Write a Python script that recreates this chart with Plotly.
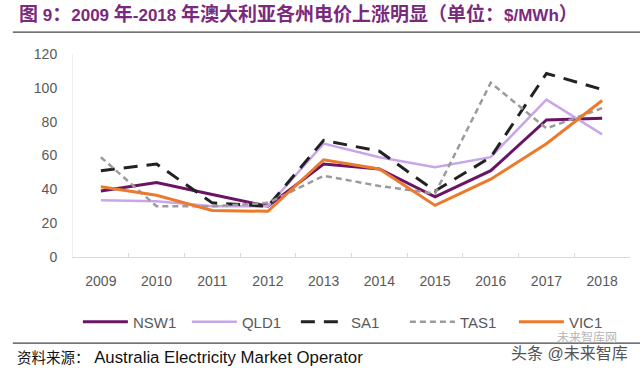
import plotly.graph_objects as go

years = ["2009", "2010", "2011", "2012", "2013", "2014", "2015", "2016", "2017", "2018"]
nsw1 = [39, 44, 37, 30, 55, 52, 35.5, 51, 81, 82]
qld1 = [33.5, 33, 30, 30, 67, 59, 53, 59, 93, 72.5]
sa1 = [51, 55, 32, 30, 69, 62.5, 39, 59, 108.5, 99]
tas1 = [59, 30, 30, 32, 48, 42, 37.5, 103, 76, 88]
vic1 = [41.5, 36.5, 27.5, 27, 57.5, 52, 30.5, 46, 67, 92.5]

FONT = "Liberation Sans, Arial, Noto Sans CJK SC, sans-serif"

fig = go.Figure()
series = [
    ("NSW1", nsw1, "#6a1466", 3, "solid"),
    ("QLD1", qld1, "#c9a6ea", 2.5, "solid"),
    ("SA1", sa1, "#222222", 3, "14px,9px"),
    ("TAS1", tas1, "#9b9b9b", 2.5, "6px,4px"),
    ("VIC1", vic1, "#ec7a2c", 3, "solid"),
]
for name, vals, color, w, dash in series:
    fig.add_trace(go.Scatter(x=years, y=vals, name=name, mode="lines",
                             line=dict(color=color, width=w, dash=dash)))

fig.update_layout(
    width=640, height=369,
    margin=dict(l=73, r=10, t=54, b=112, autoexpand=False),
    paper_bgcolor="white", plot_bgcolor="white",
    font=dict(family=FONT, size=14, color="#595959"),
    showlegend=True,
    legend=dict(orientation="h", x=0.498, xanchor="center", y=-0.32, yanchor="middle",
                font=dict(size=15, color="#595959"), itemwidth=45,
                entrywidth=49, entrywidthmode="pixels",
                traceorder="normal", bgcolor="rgba(0,0,0,0)"),
    xaxis=dict(type="category", range=[-0.5, 9.5], showgrid=False, showline=True,
               linecolor="#d9d9d9", linewidth=1, ticks="inside", tickcolor="#d9d9d9",
               ticklen=4, tickson="boundaries", ticklabelstandoff=11,
               tickfont=dict(size=14, color="#595959"), automargin=False),
    yaxis=dict(range=[0, 120], dtick=20, showgrid=False, showline=True,
               linecolor="#eeeeee", zeroline=False, ticks="", ticklabelstandoff=12,
               tickfont=dict(size=14, color="#595959"), automargin=False),
)

title = ("<b>图<span style='font-size:17px'> 9</span>：<span style='font-size:17px'>2009 </span>年"
         "<span style='font-size:17px'>-2018 </span>年澳大利亚各州电价上涨明显（单位："
         "<span style='font-size:17px'>$/MWh</span>）</b>")
fig.add_annotation(xref="paper", yref="paper", x=-0.1005, y=1.1995, text=title,
                   showarrow=False, xanchor="left", yanchor="middle",
                   font=dict(family=FONT, size=19, color="#7a2a7c"))
fig.add_shape(type="line", xref="paper", yref="paper", x0=-0.108, x1=1.02, y0=1.108, y1=1.108,
              line=dict(color="#444444", width=1.2))
fig.add_annotation(xref="paper", yref="paper", x=-0.104, y=-0.495,
                   text="资料来源：<span style='font-size:16.8px'> Australia Electricity Market Operator</span>",
                   showarrow=False, xanchor="left", yanchor="middle",
                   font=dict(family=FONT, size=14.5, color="#111111"))
fig.add_annotation(xref="paper", yref="paper", x=0.98, y=-0.397,
                   text="未来智库网",
                   showarrow=False, xanchor="right", yanchor="middle",
                   font=dict(family=FONT, size=12, color="#b5b5b5"))
fig.add_annotation(xref="paper", yref="paper", x=1.0, y=-0.475,
                   text="头条 @未来智库",
                   showarrow=False, xanchor="right", yanchor="middle",
                   font=dict(family=FONT, size=16, color="#555555"))
fig.add_shape(type="line", xref="paper", yref="paper", x0=-0.108, x1=1.02, y0=-0.424, y1=-0.424,
              line=dict(color="#444444", width=1.2))

fig.write_html("out.html", config={"displayModeBar": False},
               post_script="document.body.style.margin='0px';")
